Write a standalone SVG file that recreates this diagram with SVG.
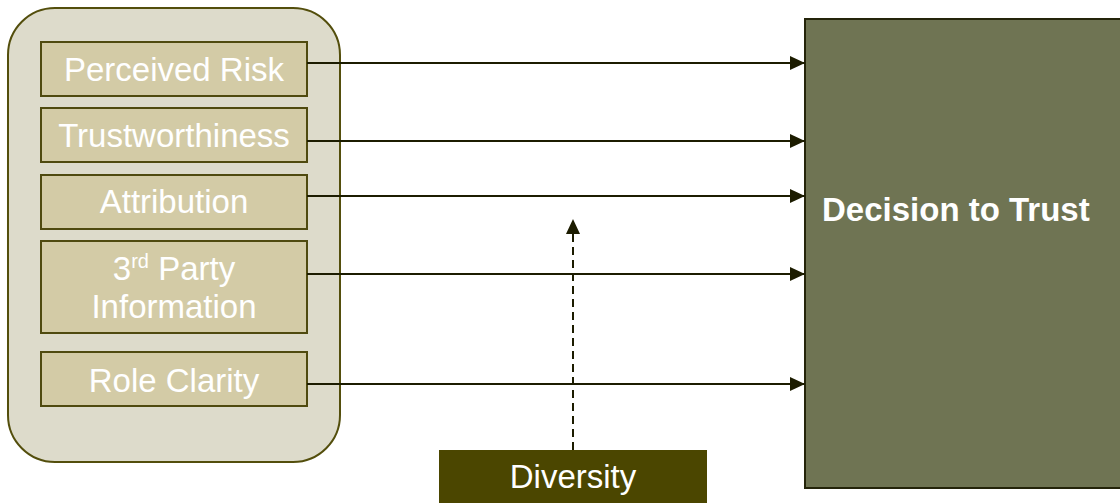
<svg xmlns="http://www.w3.org/2000/svg" width="1120" height="503" viewBox="0 0 1120 503">
<defs>
<style>
.txt{font-family:"Liberation Sans",Arial,sans-serif;font-size:33px;fill:#ffffff;text-anchor:middle}
.inner{fill:#d3cba6;stroke:#4f4a0f;stroke-width:2}
.conn{stroke:#1c1c00;stroke-width:2;fill:none}
</style>
<marker id="ah" markerUnits="userSpaceOnUse" markerWidth="16" markerHeight="16" viewBox="0 0 16 16" refX="15" refY="8" orient="auto">
<path d="M0,1 L15,8 L0,15 Z" fill="#1c1c00"/>
</marker>
</defs>
<g id="group-box">
<rect x="8" y="8" width="332" height="454" rx="47" ry="47" fill="#dddbcb" stroke="#534e0c" stroke-width="2"/>
</g>
<g id="node-perceived-risk">
<rect class="inner" x="41" y="42" width="266" height="54"/>
<text class="txt" x="174" y="81">Perceived Risk</text>
</g>
<g id="node-trustworthiness">
<rect class="inner" x="41" y="108" width="266" height="54"/>
<text class="txt" x="174" y="147">Trustworthiness</text>
</g>
<g id="node-attribution">
<rect class="inner" x="41" y="175" width="266" height="54"/>
<text class="txt" x="174" y="213">Attribution</text>
</g>
<g id="node-3rd-party">
<rect class="inner" x="41" y="241" width="266" height="92"/>
<text class="txt" x="174" y="280">3<tspan font-size="20" dy="-12">rd</tspan><tspan dy="12"> Party</tspan></text>
<text class="txt" x="174" y="318">Information</text>
</g>
<g id="node-role-clarity">
<rect class="inner" x="41" y="352" width="266" height="54"/>
<text class="txt" x="174" y="392">Role Clarity</text>
</g>
<g id="node-decision">
<rect x="805" y="19" width="330" height="469" fill="#6f7453" stroke="#24240a" stroke-width="2"/>
<text x="822" y="221" font-family="'Liberation Sans',Arial,sans-serif" font-size="33" font-weight="bold" fill="#ffffff">Decision to Trust</text>
</g>
<g id="node-diversity">
<rect x="439" y="450" width="268" height="60" fill="#4b4600"/>
<text class="txt" x="573" y="488">Diversity</text>
</g>
<g id="connectors">
<line class="conn" x1="307" y1="63" x2="805" y2="63" marker-end="url(#ah)"/>
<line class="conn" x1="307" y1="141" x2="805" y2="141" marker-end="url(#ah)"/>
<line class="conn" x1="307" y1="196" x2="805" y2="196" marker-end="url(#ah)"/>
<line class="conn" x1="307" y1="274" x2="805" y2="274" marker-end="url(#ah)"/>
<line class="conn" x1="307" y1="384" x2="805" y2="384" marker-end="url(#ah)"/>
<line class="conn" x1="573" y1="450" x2="573" y2="219" stroke-dasharray="8,5" marker-end="url(#ah)"/>
</g>
</svg>
